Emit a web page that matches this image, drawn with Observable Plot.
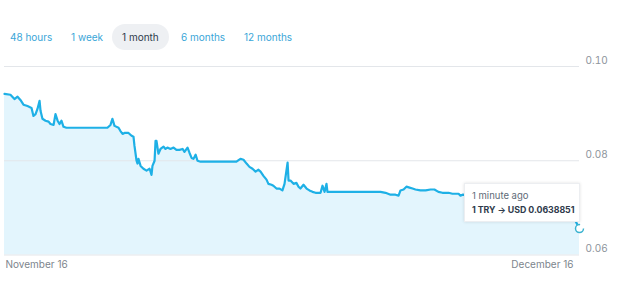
<!DOCTYPE html>
<html>
<head>
<meta charset="utf-8">
<script src="https://cdn.jsdelivr.net/npm/d3@7"></script>
<script src="https://cdn.jsdelivr.net/npm/@observablehq/plot@0.6"></script>
<style>
  html, body { margin: 0; padding: 0; background: #fff; }
  body { width: 620px; height: 300px; position: relative; overflow: hidden; font-family: Inter, "Noto Sans", sans-serif; }
  #tabs { position: relative; height: 46px; }
  .tab { position: absolute; top: 30px; font-size: 10px; line-height: 14px; color: #3aa6d8; white-space: nowrap; }
  .tab.active { color: #2f3b4c; }
  #pill { position: absolute; left: 112px; top: 24px; width: 57px; height: 26px; border-radius: 13px; background: #eef0f3; }
  #chart { position: absolute; left: 0; top: 46px; }
  #tip { position: absolute; left: 464px; top: 183px; width: 116px; height: 39px; background: #fff;
         box-shadow: 0 0 3px rgba(0,0,0,0.12); border: 1px solid #eceef1; box-sizing: border-box; }
  #tip .t1 { position: absolute; left: 7px; top: 6px; font-size: 9.5px; color: #5e6b78; white-space: nowrap; }
  #tip .t2 { position: absolute; left: 7px; top: 20px; font-size: 8.8px; font-weight: 700; color: #2f3b4c; white-space: nowrap; letter-spacing: -0.05px; }
</style>
</head>
<body>
<div id="tabs"></div>
<div id="chart"></div>
<div id="tip"><div class="t1">1 minute ago</div><div class="t2">1 TRY → USD 0.0638851</div></div>
<script>
// ---- data ----
const tabLabels = ["48 hours", "1 week", "1 month", "6 months", "12 months"];
const activeTab = "1 month";
const startDate = "2021-11-16";
const dayOffsets = [
  0, 0.31, 0.52, 0.68, 0.83, 0.99, 1.20, 1.41, 1.51, 1.62, 1.72, 1.83, 1.88, 1.98, 2.14, 2.30, 2.40, 2.56, 2.66, 2.77,
  2.87, 2.97, 3.08, 3.23, 5.37, 5.53, 5.63, 5.74, 5.95, 6.05, 6.16, 6.26, 6.47, 6.63, 6.73, 6.78, 6.89, 6.94, 6.99, 7.10,
  7.25, 7.41, 7.57, 7.62, 7.67, 7.72, 7.83, 7.88, 7.93, 8.03, 8.14, 8.30, 8.40, 8.50, 8.66, 8.82, 8.97, 9.13, 9.29, 9.39,
  9.55, 9.65, 9.76, 9.86, 9.97, 10.07, 10.23, 12.10, 12.31, 12.47, 12.63, 12.78, 12.94, 13.10, 13.25, 13.36, 13.51, 13.67, 13.77, 13.93,
  14.03, 14.19, 14.35, 14.50, 14.61, 14.77, 14.82, 14.92, 15.08, 15.23, 15.34, 15.44, 15.60, 15.76, 15.91, 16.07, 16.23, 16.38, 16.49, 16.59,
  16.70, 16.80, 16.85, 17.01, 19.62, 19.88, 20.14, 20.40, 20.56, 20.66, 20.82, 20.97, 21.13, 21.29, 21.44, 21.70, 21.97, 22.23, 22.43, 22.64,
  22.85, 23.17, 23.37, 23.53, 23.69, 23.79, 23.90, 25.88, 27.97, 29.27, 29.79, 30.0
];
const rates = [
  0.0942, 0.0940, 0.0931, 0.0936, 0.0929, 0.0919, 0.0916, 0.0912, 0.0895, 0.0899, 0.0910, 0.0927, 0.0906, 0.0889, 0.0885, 0.0883, 0.0878, 0.0876, 0.0899, 0.0885,
  0.0878, 0.0885, 0.0872, 0.0870, 0.0870, 0.0876, 0.0889, 0.0874, 0.0870, 0.0863, 0.0857, 0.0859, 0.0859, 0.0853, 0.0851, 0.0832, 0.0800, 0.0794, 0.0804, 0.0789,
  0.0783, 0.0779, 0.0783, 0.0777, 0.0770, 0.0789, 0.0800, 0.0842, 0.0842, 0.0815, 0.0825, 0.0830, 0.0825, 0.0828, 0.0825, 0.0828, 0.0823, 0.0823, 0.0825, 0.0819,
  0.0828, 0.0817, 0.0806, 0.0804, 0.0813, 0.0800, 0.0798, 0.0798, 0.0804, 0.0802, 0.0794, 0.0787, 0.0783, 0.0777, 0.0781, 0.0777, 0.0768, 0.0760, 0.0751, 0.0749,
  0.0747, 0.0741, 0.0741, 0.0737, 0.0751, 0.0796, 0.0758, 0.0758, 0.0751, 0.0753, 0.0745, 0.0741, 0.0749, 0.0741, 0.0737, 0.0734, 0.0732, 0.0732, 0.0732, 0.0747,
  0.0734, 0.0751, 0.0734, 0.0734, 0.0734, 0.0732, 0.0728, 0.0728, 0.0726, 0.0737, 0.0739, 0.0745, 0.0743, 0.0741, 0.0739, 0.0737, 0.0737, 0.0739, 0.0739, 0.0734,
  0.0732, 0.0732, 0.0730, 0.0730, 0.0730, 0.0726, 0.0728, 0.0722, 0.0705, 0.0685, 0.0672, 0.0656
];
const yTicks = [0.06, 0.08, 0.10];
const xTickDays = [0, 30];
const xTickLabels = ["November 16", "December 16"];

// ---- tabs ----
const tabLeft = [10, 71, 122, 181, 244];
const tabs = document.getElementById("tabs");
const pill = document.createElement("div"); pill.id = "pill"; tabs.appendChild(pill);
tabLabels.forEach((t, i) => {
  const d = document.createElement("div");
  d.className = "tab" + (t === activeTab ? " active" : "");
  d.style.left = tabLeft[i] + "px";
  d.textContent = t;
  tabs.appendChild(d);
});

// ---- chart ----
const t0 = new Date(startDate + "T00:00:00Z");
const toDate = (d) => new Date(t0.getTime() + d * 86400000);
const data = dayOffsets.map((d, i) => ({date: toDate(d), rate: rates[i]}));
const last = data[data.length - 1];
const xTicks = xTickDays.map((d, i) => ({date: toDate(d), label: xTickLabels[i]}));

const lineColor = "#1eb0e6";
const chart = Plot.plot({
  width: 620,
  height: 254,
  marginTop: 20,
  marginBottom: 45.5,
  marginLeft: 4,
  marginRight: 41,
  style: {fontFamily: "Inter, 'Noto Sans', sans-serif", fontSize: "10px", background: "transparent"},
  x: {type: "utc", domain: [toDate(0), toDate(30)], axis: null},
  y: {domain: [0.06, 0.10], axis: null},
  marks: [
    Plot.areaY(data, {x: "date", y1: 0.06, y2: "rate", fill: "#e3f5fd"}),
    Plot.gridY(yTicks, {stroke: "#e3e6ea", strokeOpacity: 1, strokeWidth: 1}),
    Plot.lineY(data, {x: "date", y: "rate", stroke: lineColor, strokeWidth: 2.2, strokeLinejoin: "round"}),
    Plot.dot([last], {x: "date", y: "rate", r: 4, fill: "#fff", stroke: "#3bb3d0", strokeWidth: 1.5, strokeDasharray: "19 6"}),
    Plot.axisY(yTicks, {anchor: "right", label: null, tickSize: 0, tickPadding: 6, dy: -6, tickFormat: d3.format(".2f"), fill: "#8c939b", fontSize: 10}),
    Plot.text([xTicks[0]], {x: "date", text: "label", frameAnchor: "bottom", dy: 13, dx: 1, textAnchor: "start", fill: "#7d858d", fontSize: 10}),
    Plot.text([xTicks[1]], {x: "date", text: "label", frameAnchor: "bottom", dy: 13, dx: -6, textAnchor: "end", fill: "#7d858d", fontSize: 10})
  ]
});
document.getElementById("chart").appendChild(chart);
</script>
</body>
</html>
